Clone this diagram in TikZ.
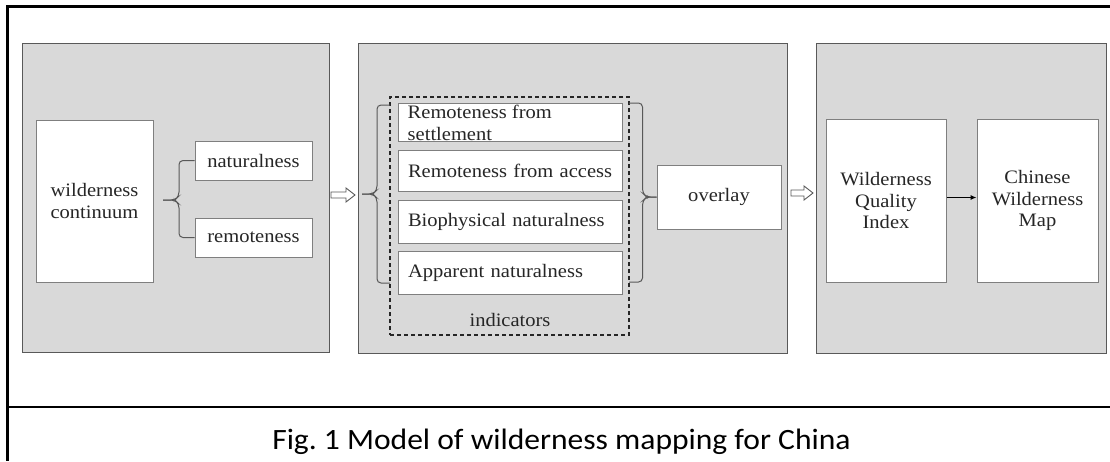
\documentclass[tikz,border=0pt]{standalone}
\usepackage{fontspec}
\usepackage{graphicx}
\usetikzlibrary{calc,arrows.meta}
\newfontfamily\capfont{Carlito}
\newfontfamily\boxfont{Liberation Serif}[FakeStretch=1.08]
\definecolor{panelgray}{HTML}{D9D9D9}
\definecolor{paneledge}{HTML}{595959}
\definecolor{boxedge}{HTML}{7F7F7F}
\definecolor{textcol}{HTML}{262626}
\tikzset{
  panel/.style={draw=paneledge, fill=panelgray, line width=1pt, inner sep=0pt},
  wbox/.style={draw=boxedge, fill=white, line width=1pt, inner sep=0pt, align=center,
    text=textcol, font=\boxfont\fontsize{19}{21.5}\selectfont},
  ibox/.style={wbox, minimum width=224pt, text width=204pt, align=left},
  dashbox/.style={draw=black!85, dash pattern=on 4pt off 3pt, line width=1.3pt, inner sep=0pt},
  brace/.style={draw=paneledge, line width=1pt, rounded corners=4pt},
  harrow/.style={draw=paneledge, fill=white, line width=0.9pt, line join=miter},
  txt/.style={inner sep=0pt, text=textcol, font=\boxfont\fontsize{19}{22}\selectfont},
  frame/.style={line width=2.5pt, draw=black}
}
\newcommand{\hollowarrow}[2]{%
  \draw[harrow] ($(#1)+(0,-3)$) -- ($(#2)+(-9,-3)$) -- ($(#2)+(-9,-7)$) -- (#2)
    -- ($(#2)+(-9,7)$) -- ($(#2)+(-9,3)$) -- ($(#1)+(0,3)$) -- cycle;}
\begin{document}
\begin{tikzpicture}[x=1pt,y=-1pt]
\useasboundingbox (0,0) rectangle (1110,461);
% outer frame
\draw[frame] (1110,6.5) -- (7.5,6.5) -- (7.5,461);
\draw[frame] (7.5,407) -- (1110,407);
% panels
\node[panel, minimum width=307pt, minimum height=309pt] (p1) at (175.5,197.5) {};
\node[panel, minimum width=429pt, minimum height=310pt] (p2) at (572.5,198) {};
\node[panel, minimum width=290pt, minimum height=310pt] (p3) at (961,198) {};
% panel 1
\node[wbox, minimum width=117pt, minimum height=162pt] (wc) at (94.5,201) {wilderness\\continuum};
\node[wbox, minimum width=117pt, minimum height=39pt] (nat) at (253.5,160.5) {naturalness};
\node[wbox, minimum width=117pt, minimum height=39pt] (rem) at (253.5,237.5) {remoteness};
\coordinate (t1) at (163,200);
\draw[brace] (nat.west) -| ($(t1)+(16,-4)$) -- ($(t1)+(12,0)$) -- (t1);
\draw[brace] (rem.west) -| ($(t1)+(16,4)$) -- ($(t1)+(12,0)$) -- (t1);
% arrow 1
\coordinate (a1s) at (331,195);
\coordinate (a1e) at (355,195);
\hollowarrow{a1s}{a1e}
% panel 2
\node[dashbox, minimum width=239pt, minimum height=238pt] (ind) at (509.5,216) {};
\node[wbox, minimum width=224pt, minimum height=38pt] (b1) at (510,122) {};
\node[txt, anchor=north west, align=left] (b1t) at ($(b1.north west)+(10,2)$) {Remoteness from\\settlement};
\node[ibox, minimum height=41pt] (b2) at (510,170.5) {\mbox{Remoteness from access}};
\node[ibox, minimum height=43pt] (b3) at (510,221.5) {\mbox{Biophysical naturalness}};
\node[ibox, minimum height=43pt] (b4) at (510,272.5) {\mbox{Apparent naturalness}};
\node[txt] (indl) at (510,320) {indicators};
\node[wbox, minimum width=124pt, minimum height=64pt] (ov) at (719,197) {overlay};
\coordinate (t2) at (362,194);
\coordinate (l2a) at (390,105);
\coordinate (l2b) at (390,283);
\draw[brace] (l2a) -| ($(t2)+(15,-4)$) -- ($(t2)+(11,0)$) -- (t2);
\draw[brace] (l2b) -| ($(t2)+(15,4)$) -- ($(t2)+(11,0)$) -- (t2);
\coordinate (r2a) at (629,103);
\coordinate (r2b) at (629,282);
\draw[brace] (r2a) -| ($(ov.west)+(-14,-4)$) -- ($(ov.west)+(-10,0)$) -- (ov.west);
\draw[brace] (r2b) -| ($(ov.west)+(-14,4)$) -- ($(ov.west)+(-10,0)$) -- (ov.west);
% arrow 2
\coordinate (a2s) at (791,193);
\coordinate (a2e) at (813,193);
\hollowarrow{a2s}{a2e}
% panel 3
\node[wbox, minimum width=120pt, minimum height=163pt] (wqi) at (886,200.5) {Wilderness\\Quality\\Index};
\node[wbox, minimum width=121pt, minimum height=163pt] (cwm) at (1037.5,200.5) {Chinese\\Wilderness\\Map};
\draw[line width=1pt, -{Latex[length=6pt,width=5pt]}] ($(wqi.east)+(0,-3)$) -- ($(cwm.west)+(0,-3)$);
% caption
\node[anchor=base, inner sep=0pt, font=\capfont\fontsize{29.5}{32}\selectfont] (cap) at (561.5,449)
  {\frenchspacing\scalebox{1.07}[1]{Fig. 1 Model of wilderness mapping for China}};
\end{tikzpicture}
\end{document}
